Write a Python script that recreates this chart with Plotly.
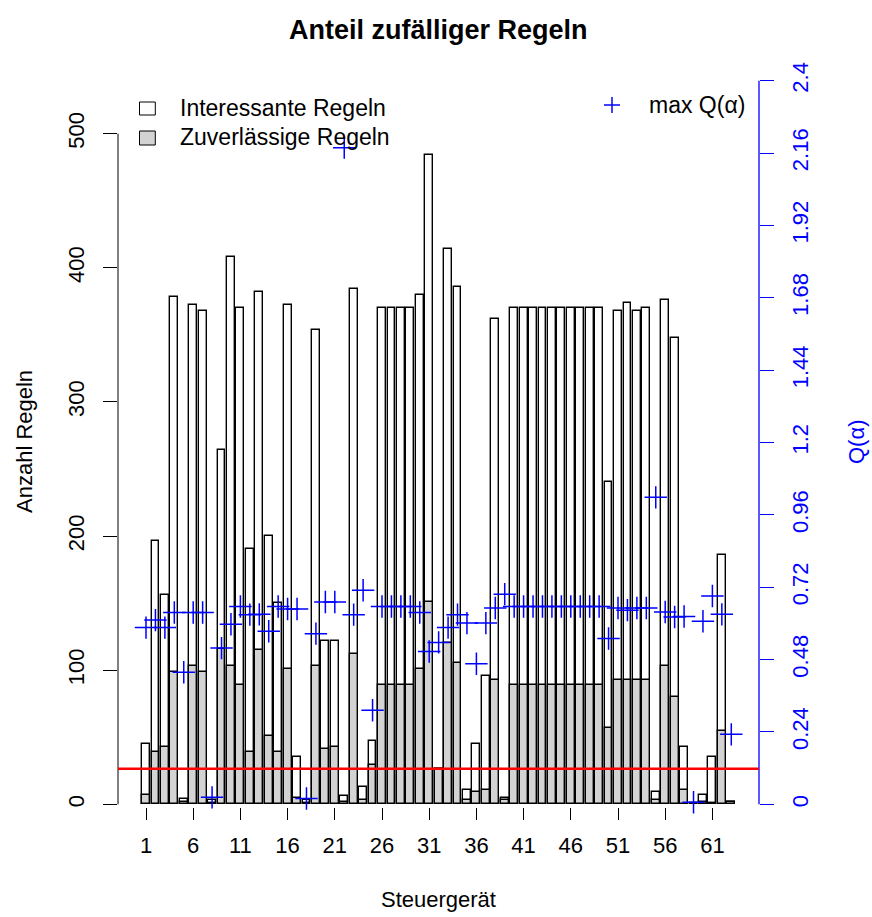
import plotly.graph_objects as go

# ---------------- data ----------------
steuergeraet = list(range(1, 64))
interessante = [45, 196, 156, 378, 4, 372, 368, 3, 264, 408,
                370, 190, 382, 200, 150, 372, 35, 3, 354, 122,
                122, 6, 384, 13, 47, 370, 370, 370, 370, 380,
                484, 26, 414, 386, 11, 45, 96, 362, 5, 370,
                370, 370, 370, 370, 370, 370, 370, 370, 370, 240,
                368, 374, 368, 370, 9, 376, 348, 43, 1, 7,
                35, 186, 2]
zuverlaessige = [7, 39, 43, 99, 2, 103, 99, 1, 116, 103,
                 89, 39, 115, 51, 39, 101, 5, 1, 103, 41,
                 43, 2, 112, 3, 29, 89, 89, 89, 89, 101,
                 151, 26, 120, 105, 3, 9, 11, 93, 3, 89,
                 89, 89, 89, 89, 89, 89, 89, 89, 89, 57,
                 93, 93, 93, 93, 3, 103, 80, 11, 0, 2,
                 1, 55, 2]
max_q = [0.586, 0.611, 0.586, 0.636, 0.438, 0.636, 0.636, 0.023, 0.518, 0.597,
         0.656, 0.629, 0.630, 0.574, 0.656, 0.648, 0.648, 0.019, 0.566, 0.671,
         0.671, 2.178, 0.629, 0.710, 0.312, 0.656, 0.656, 0.656, 0.656, 0.636,
         0.507, 0.537, 0.586, 0.629, 0.601, 0.466, 0.601, 0.651, 0.697, 0.656,
         0.656, 0.656, 0.656, 0.656, 0.656, 0.656, 0.656, 0.656, 0.656, 0.550,
         0.651, 0.644, 0.651, 0.651, 1.018, 0.638, 0.621, 0.623, 0.007, 0.607,
         0.691, 0.630, 0.232]
threshold_q = 0.118
x_ticks = list(range(1, 62, 5))
y_ticks = [0, 100, 200, 300, 400, 500]
q_ticks = [0, 0.24, 0.48, 0.72, 0.96, 1.2, 1.44, 1.68, 1.92, 2.16, 2.4]
q_ticktext = ["0", "0.24", "0.48", "0.72", "0.96", "1.2", "1.44", "1.68", "1.92", "2.16", "2.4"]

# ---------------- layout geometry ----------------
W, H = 872, 917
PL, PR, PT, PB = 118, 759, 80, 807
FONT = "Liberation Sans, Arial, Helvetica, sans-serif"
BLUE = "#0000FF"


def px_x(px):
    return (px - PL) / (PR - PL)


def px_y(py):
    return (PB - py) / (PB - PT)


fig = go.Figure()
fig.add_trace(go.Bar(x=steuergeraet, y=interessante, width=0.833,
                     marker=dict(color="#FDFDFD", line=dict(color="black", width=1.4)),
                     name="Interessante Regeln"))
fig.add_trace(go.Bar(x=steuergeraet, y=zuverlaessige, width=0.833,
                     marker=dict(color="#D3D3D3", line=dict(color="black", width=1.4)),
                     name="Zuverlässige Regeln"))
fig.add_trace(go.Scatter(x=steuergeraet, y=max_q, yaxis="y2", mode="markers",
                         marker=dict(symbol="cross-thin", size=16, color=BLUE,
                                     line=dict(color=BLUE, width=1.5)),
                         name="max Q(α)", cliponaxis=False))

shapes = [
    dict(type="line", xref="paper", yref="y", x0=0, x1=0, y0=0, y1=500,
         line=dict(color="black", width=1)),
    dict(type="line", xref="paper", yref="y2", x0=1, x1=1, y0=0, y1=2.4,
         line=dict(color=BLUE, width=1.3)),
    dict(type="line", xref="paper", yref="y2", x0=0, x1=1, y0=threshold_q, y1=threshold_q,
         line=dict(color="#FF0000", width=2.5)),
    dict(type="rect", xref="paper", yref="paper", x0=px_x(139.5), x1=px_x(155.3),
         y0=px_y(115), y1=px_y(102), fillcolor="#FDFDFD", line=dict(color="black", width=1)),
    dict(type="rect", xref="paper", yref="paper", x0=px_x(139.5), x1=px_x(155.3),
         y0=px_y(145), y1=px_y(131), fillcolor="#D3D3D3", line=dict(color="black", width=1)),
    dict(type="line", xref="paper", yref="paper", x0=px_x(604), x1=px_x(620),
         y0=px_y(105), y1=px_y(105), line=dict(color=BLUE, width=1.5)),
    dict(type="line", xref="paper", yref="paper", x0=px_x(612), x1=px_x(612),
         y0=px_y(97), y1=px_y(113), line=dict(color=BLUE, width=1.5)),
]

annotations = [
    dict(text="<b>Anteil zufälliger Regeln</b>", x=px_x(438.5), y=px_y(30),
         font=dict(size=27, color="black")),
    dict(text="Anzahl Regeln", x=px_x(25), y=px_y(442), textangle=-90,
         font=dict(size=22, color="black")),
    dict(text="Q(α)", x=px_x(857), y=px_y(442), textangle=-90,
         font=dict(size=22, color=BLUE)),
    dict(text="Steuergerät", x=px_x(438.5), y=px_y(899),
         font=dict(size=22, color="black")),
    dict(text="Interessante Regeln", x=px_x(178), y=px_y(108), xanchor="left",
         font=dict(size=23, color="black")),
    dict(text="Zuverlässige Regeln", x=px_x(178), y=px_y(137), xanchor="left",
         font=dict(size=23, color="black")),
    dict(text="max Q(α)", x=px_x(647), y=px_y(105), xanchor="left",
         font=dict(size=23, color="black")),
]
for a in annotations:
    a.update(xref="paper", yref="paper", showarrow=False)
    a.setdefault("xanchor", "center")
    a["yanchor"] = "middle"

left_px_per_unit = (804.3 - 133.7) / 500
q_px_per_unit = (804.3 - 80.7) / 2.4
y_lo = -(PB - 804.3) / left_px_per_unit
y_hi = 500 + (133.7 - PT) / left_px_per_unit
q_lo = -(PB - 804.3) / q_px_per_unit
q_hi = 2.4 + (80.7 - PT) / q_px_per_unit
x_px_per_unit = 9.44
x_lo = 1 - (146 - PL) / x_px_per_unit
x_hi = 1 + (PR - 146) / x_px_per_unit

fig.update_layout(
    width=W, height=H,
    margin=dict(l=PL, r=W - PR, t=PT, b=H - PB, pad=0),
    paper_bgcolor="white", plot_bgcolor="white",
    barmode="overlay", bargap=0, showlegend=False,
    font=dict(family=FONT, size=22, color="black"),
    shapes=shapes, annotations=annotations,
    xaxis=dict(range=[x_lo, x_hi], tickmode="array", tickvals=x_ticks,
               ticktext=[str(v) for v in x_ticks], ticks="outside", ticklen=12,
               tickcolor="black", tickwidth=1, showline=False, showgrid=False,
               zeroline=False, ticklabelstandoff=7, tickfont=dict(size=22)),
    yaxis=dict(range=[y_lo, y_hi], tickmode="array", tickvals=y_ticks,
               ticktext=[str(v) for v in y_ticks], ticks="outside", ticklen=14,
               tickcolor="black", tickwidth=1, tickangle=-90, showline=False,
               showgrid=False, zeroline=False, ticklabelstandoff=10,
               tickfont=dict(size=22)),
    yaxis2=dict(range=[q_lo, q_hi], overlaying="y", side="right", tickmode="array",
                tickvals=q_ticks, ticktext=q_ticktext, ticks="outside", ticklen=14,
                tickcolor=BLUE, tickwidth=1.3, tickangle=-90, showline=False,
                showgrid=False, zeroline=False, ticklabelstandoff=8,
                tickfont=dict(size=22, color=BLUE)),
)

fig.write_html("out.html")
